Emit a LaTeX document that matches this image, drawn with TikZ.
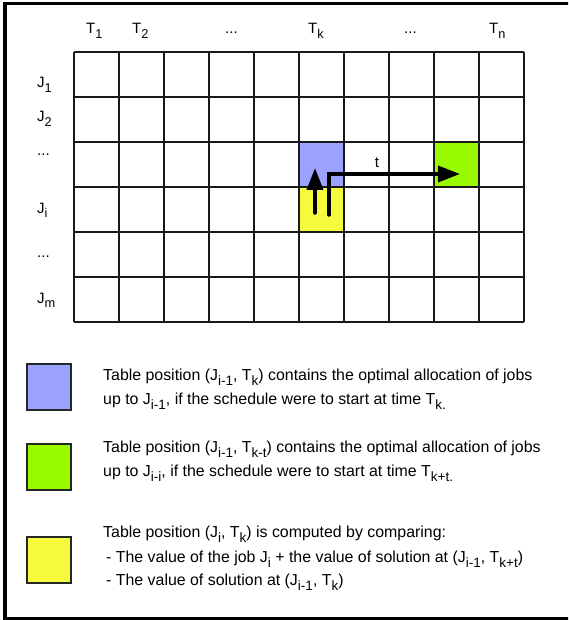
\documentclass[tikz,border=0pt]{standalone}
\usepackage{fontspec}
\setmainfont{Liberation Sans}
\usetikzlibrary{arrows.meta}
\definecolor{cblue}{RGB}{155,162,255}
\definecolor{cgreen}{RGB}{153,250,0}
\definecolor{cyellow}{RGB}{245,250,60}
\newcommand\lo[1]{\raisebox{-0.33em}{\scalebox{0.85}{#1}}}
\tikzset{
  lbl/.style={anchor=base west, inner sep=0pt, font=\fontsize{15}{17}\selectfont},
  leg/.style={anchor=base west, inner sep=0pt, font=\fontsize{15.9}{18}\selectfont},
  sq/.style={draw=black!85, line width=1.2pt, minimum width=44pt, minimum height=46pt, inner sep=0pt},
  gridline/.style={line width=1.3pt, black!90},
  bigarrow/.style={line width=3.5pt, line cap=round, -{Triangle[length=22pt,width=16pt]}}
}
\begin{document}
\begin{tikzpicture}[x=1pt,y=-1pt]
\useasboundingbox (0,0) rectangle (568,620);
\fill[white] (0,0) rectangle (568,620);
\begin{scope}
  \clip (0,0) rectangle (568,620);
  \draw[line width=3.5pt] (5,3.5) rectangle (590,618.5);
\end{scope}
% coloured cells
\fill[cblue] (299,142) rectangle (344,187);
\fill[cyellow] (299,187) rectangle (344,232);
\fill[cgreen] (434,142) rectangle (479,187);
% grid
\foreach \i in {0,...,10} \draw[gridline] (74+45*\i,52) -- (74+45*\i,322);
\foreach \j in {0,...,6} \draw[gridline] (74,52+45*\j) -- (524,52+45*\j);
% header labels
\node[lbl] (t1) at (86,34) {T\lo{1}};
\node[lbl] (t2) at (132,34) {T\lo{2}};
\node[lbl] (td1) at (225,34) {...};
\node[lbl] (tk) at (308,34) {T\lo{k}};
\node[lbl] (td2) at (404,34) {...};
\node[lbl] (tn) at (489,34) {T\lo{n}};
% row labels
\node[lbl] (j1) at (37,88) {J\lo{1}};
\node[lbl] (j2) at (37,122) {J\lo{2}};
\node[lbl] (jd1) at (37,156) {...};
\node[lbl] (ji) at (37,213) {J\lo{i}};
\node[lbl] (jd2) at (37,257) {...};
\node[lbl] (jm) at (37,303) {J\lo{m}};
% arrows
\coordinate (upS) at (315,213);
\coordinate (upE) at (315,168);
\coordinate (rtS) at (329,215);
\coordinate (rtE) at (460,174);
\draw[bigarrow] (upS) -- (upE);
\draw[bigarrow, line join=miter] (rtS) |- (rtE);
\node[lbl, anchor=center] (tl) at (377,163) {t};
% legend
\node[sq, fill=cblue] (sqb) at (49,387) {};
\node[sq, fill=cgreen] (sqg) at (49,467) {};
\node[sq, fill=cyellow] (sqy) at (49,560) {};
\node[leg] (b1) at (103,380) {Table position (J\lo{i-1}, T\lo{k}) contains the optimal allocation of jobs};
\node[leg] (b2) at (103,404) {up to J\lo{i-1}, if the schedule were to start at time T\lo{k.}};
\node[leg] (g1) at (103,452) {Table position (J\lo{i-1}, T\lo{k-t}) contains the optimal allocation of jobs};
\node[leg] (g2) at (103,476) {up to J\lo{i-i}, if the schedule were to start at time T\lo{k+t.}};
\node[leg] (y1) at (103,537) {Table position (J\lo{i}, T\lo{k}) is computed by comparing:};
\node[leg] (y2) at (103,562) {\hspace{3pt}- The value of the job J\lo{i} + the value of solution at (J\lo{i-1}, T\lo{k+t})};
\node[leg] (y3) at (103,585) {\hspace{3pt}- The value of solution at (J\lo{i-1}, T\lo{k})};
\end{tikzpicture}
\end{document}
